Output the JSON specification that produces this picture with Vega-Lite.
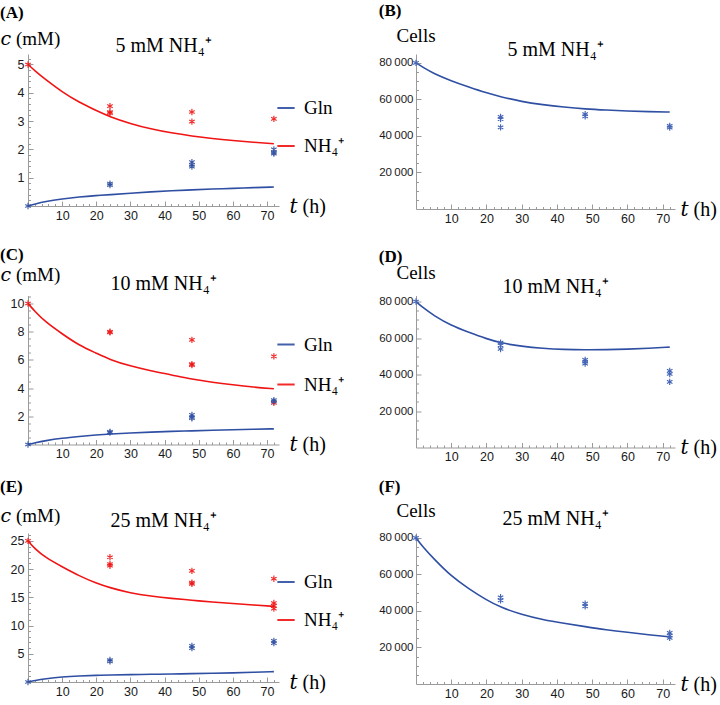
{
  "$schema": "https://vega.github.io/schema/vega-lite/v6.json",
  "padding": {"left": 0, "top": 2, "right": 0, "bottom": 0},
  "background": "white",
  "config": {
    "view": {"stroke": null},
    "axis": {"domainColor": "#9a9a9a", "tickColor": "#9a9a9a", "labelFont": "Liberation Sans", "labelFontSize": 12.5, "labelColor": "#1a1a1a", "grid": false, "titleFont": "Liberation Serif, DejaVu Serif", "titleFontWeight": "normal", "titleColor": "black", "labelFlush": false, "labelOverlap": false, "tickSize": -5, "domainWidth": 1, "tickCount": 100},
    "title": {"font": "Liberation Serif", "fontWeight": "normal", "color": "black"}
  },
  "datasets": {
    "curves": [
      {"p":"A","s":"NH₄⁺","t":0,"v":5.0},{"p":"A","s":"NH₄⁺","t":2,"v":4.78},{"p":"A","s":"NH₄⁺","t":5,"v":4.48},{"p":"A","s":"NH₄⁺","t":10,"v":4.03},{"p":"A","s":"NH₄⁺","t":15,"v":3.66},{"p":"A","s":"NH₄⁺","t":20,"v":3.37},{"p":"A","s":"NH₄⁺","t":24,"v":3.15},{"p":"A","s":"NH₄⁺","t":30,"v":2.91},{"p":"A","s":"NH₄⁺","t":36,"v":2.72},{"p":"A","s":"NH₄⁺","t":42,"v":2.58},{"p":"A","s":"NH₄⁺","t":48,"v":2.47},{"p":"A","s":"NH₄⁺","t":54,"v":2.38},{"p":"A","s":"NH₄⁺","t":60,"v":2.31},{"p":"A","s":"NH₄⁺","t":66,"v":2.25},{"p":"A","s":"NH₄⁺","t":72,"v":2.2},
      {"p":"A","s":"Gln","t":0,"v":0},{"p":"A","s":"Gln","t":2,"v":0.07},{"p":"A","s":"Gln","t":5,"v":0.16},{"p":"A","s":"Gln","t":10,"v":0.25},{"p":"A","s":"Gln","t":15,"v":0.32},{"p":"A","s":"Gln","t":20,"v":0.37},{"p":"A","s":"Gln","t":24,"v":0.4},{"p":"A","s":"Gln","t":30,"v":0.45},{"p":"A","s":"Gln","t":36,"v":0.5},{"p":"A","s":"Gln","t":42,"v":0.54},{"p":"A","s":"Gln","t":48,"v":0.57},{"p":"A","s":"Gln","t":54,"v":0.6},{"p":"A","s":"Gln","t":60,"v":0.62},{"p":"A","s":"Gln","t":66,"v":0.65},{"p":"A","s":"Gln","t":72,"v":0.67},
      {"p":"C","s":"NH₄⁺","t":0,"v":10},{"p":"C","s":"NH₄⁺","t":2,"v":9.45},{"p":"C","s":"NH₄⁺","t":5,"v":8.72},{"p":"C","s":"NH₄⁺","t":10,"v":7.85},{"p":"C","s":"NH₄⁺","t":15,"v":7.03},{"p":"C","s":"NH₄⁺","t":20,"v":6.48},{"p":"C","s":"NH₄⁺","t":24,"v":6.02},{"p":"C","s":"NH₄⁺","t":30,"v":5.56},{"p":"C","s":"NH₄⁺","t":36,"v":5.22},{"p":"C","s":"NH₄⁺","t":42,"v":4.94},{"p":"C","s":"NH₄⁺","t":48,"v":4.63},{"p":"C","s":"NH₄⁺","t":54,"v":4.41},{"p":"C","s":"NH₄⁺","t":60,"v":4.23},{"p":"C","s":"NH₄⁺","t":66,"v":4.07},{"p":"C","s":"NH₄⁺","t":72,"v":3.95},
      {"p":"C","s":"Gln","t":0,"v":0},{"p":"C","s":"Gln","t":2,"v":0.12},{"p":"C","s":"Gln","t":5,"v":0.27},{"p":"C","s":"Gln","t":10,"v":0.45},{"p":"C","s":"Gln","t":15,"v":0.57},{"p":"C","s":"Gln","t":20,"v":0.68},{"p":"C","s":"Gln","t":24,"v":0.75},{"p":"C","s":"Gln","t":30,"v":0.82},{"p":"C","s":"Gln","t":36,"v":0.88},{"p":"C","s":"Gln","t":42,"v":0.93},{"p":"C","s":"Gln","t":48,"v":0.97},{"p":"C","s":"Gln","t":54,"v":1.01},{"p":"C","s":"Gln","t":60,"v":1.05},{"p":"C","s":"Gln","t":66,"v":1.08},{"p":"C","s":"Gln","t":72,"v":1.11},
      {"p":"E","s":"NH₄⁺","t":0,"v":25},{"p":"E","s":"NH₄⁺","t":2,"v":23.6},{"p":"E","s":"NH₄⁺","t":5,"v":22.1},{"p":"E","s":"NH₄⁺","t":10,"v":20.4},{"p":"E","s":"NH₄⁺","t":15,"v":18.8},{"p":"E","s":"NH₄⁺","t":20,"v":17.5},{"p":"E","s":"NH₄⁺","t":24,"v":16.7},{"p":"E","s":"NH₄⁺","t":30,"v":15.75},{"p":"E","s":"NH₄⁺","t":36,"v":15.2},{"p":"E","s":"NH₄⁺","t":42,"v":14.8},{"p":"E","s":"NH₄⁺","t":48,"v":14.5},{"p":"E","s":"NH₄⁺","t":54,"v":14.15},{"p":"E","s":"NH₄⁺","t":60,"v":13.9},{"p":"E","s":"NH₄⁺","t":66,"v":13.65},{"p":"E","s":"NH₄⁺","t":72,"v":13.4},
      {"p":"E","s":"Gln","t":0,"v":0},{"p":"E","s":"Gln","t":2,"v":0.25},{"p":"E","s":"Gln","t":5,"v":0.55},{"p":"E","s":"Gln","t":10,"v":0.92},{"p":"E","s":"Gln","t":15,"v":1.08},{"p":"E","s":"Gln","t":20,"v":1.18},{"p":"E","s":"Gln","t":24,"v":1.24},{"p":"E","s":"Gln","t":30,"v":1.3},{"p":"E","s":"Gln","t":36,"v":1.36},{"p":"E","s":"Gln","t":42,"v":1.42},{"p":"E","s":"Gln","t":48,"v":1.48},{"p":"E","s":"Gln","t":54,"v":1.55},{"p":"E","s":"Gln","t":60,"v":1.62},{"p":"E","s":"Gln","t":66,"v":1.72},{"p":"E","s":"Gln","t":72,"v":1.83},
      {"p":"B","s":"Cells","t":0,"v":80000},{"p":"B","s":"Cells","t":2,"v":77600},{"p":"B","s":"Cells","t":5,"v":74200},{"p":"B","s":"Cells","t":10,"v":70200},{"p":"B","s":"Cells","t":15,"v":66800},{"p":"B","s":"Cells","t":20,"v":63600},{"p":"B","s":"Cells","t":24,"v":61500},{"p":"B","s":"Cells","t":30,"v":58800},{"p":"B","s":"Cells","t":36,"v":57100},{"p":"B","s":"Cells","t":42,"v":55800},{"p":"B","s":"Cells","t":48,"v":54800},{"p":"B","s":"Cells","t":54,"v":54200},{"p":"B","s":"Cells","t":60,"v":53700},{"p":"B","s":"Cells","t":66,"v":53300},{"p":"B","s":"Cells","t":72,"v":53100},
      {"p":"D","s":"Cells","t":0,"v":80000},{"p":"D","s":"Cells","t":2,"v":76600},{"p":"D","s":"Cells","t":5,"v":72400},{"p":"D","s":"Cells","t":10,"v":66800},{"p":"D","s":"Cells","t":15,"v":63100},{"p":"D","s":"Cells","t":20,"v":59600},{"p":"D","s":"Cells","t":24,"v":57300},{"p":"D","s":"Cells","t":30,"v":55400},{"p":"D","s":"Cells","t":36,"v":54300},{"p":"D","s":"Cells","t":42,"v":53700},{"p":"D","s":"Cells","t":48,"v":53500},{"p":"D","s":"Cells","t":54,"v":53600},{"p":"D","s":"Cells","t":60,"v":53900},{"p":"D","s":"Cells","t":66,"v":54400},{"p":"D","s":"Cells","t":72,"v":55000},
      {"p":"F","s":"Cells","t":0,"v":80000},{"p":"F","s":"Cells","t":2,"v":75000},{"p":"F","s":"Cells","t":5,"v":68700},{"p":"F","s":"Cells","t":10,"v":59000},{"p":"F","s":"Cells","t":15,"v":52100},{"p":"F","s":"Cells","t":20,"v":46000},{"p":"F","s":"Cells","t":24,"v":42000},{"p":"F","s":"Cells","t":30,"v":38000},{"p":"F","s":"Cells","t":36,"v":35200},{"p":"F","s":"Cells","t":42,"v":33200},{"p":"F","s":"Cells","t":48,"v":31400},{"p":"F","s":"Cells","t":54,"v":29700},{"p":"F","s":"Cells","t":60,"v":28300},{"p":"F","s":"Cells","t":66,"v":27000},{"p":"F","s":"Cells","t":72,"v":25800}
    ],
    "points": [
      {"p":"A","s":"NH₄⁺","t":0,"v":5},{"p":"A","s":"NH₄⁺","t":24,"v":3.53},{"p":"A","s":"NH₄⁺","t":24,"v":3.32},{"p":"A","s":"NH₄⁺","t":24,"v":3.28},{"p":"A","s":"NH₄⁺","t":48,"v":3.32},{"p":"A","s":"NH₄⁺","t":48,"v":2.98},{"p":"A","s":"NH₄⁺","t":72,"v":3.08},
      {"p":"A","s":"Gln","t":0,"v":0},{"p":"A","s":"Gln","t":24,"v":0.79},{"p":"A","s":"Gln","t":24,"v":0.74},{"p":"A","s":"Gln","t":48,"v":1.55},{"p":"A","s":"Gln","t":48,"v":1.45},{"p":"A","s":"Gln","t":48,"v":1.39},{"p":"A","s":"Gln","t":72,"v":2.0},{"p":"A","s":"Gln","t":72,"v":1.89},{"p":"A","s":"Gln","t":72,"v":1.85},
      {"p":"C","s":"NH₄⁺","t":0,"v":10},{"p":"C","s":"NH₄⁺","t":24,"v":8.0},{"p":"C","s":"NH₄⁺","t":24,"v":7.95},{"p":"C","s":"NH₄⁺","t":48,"v":7.42},{"p":"C","s":"NH₄⁺","t":48,"v":5.7},{"p":"C","s":"NH₄⁺","t":48,"v":5.63},{"p":"C","s":"NH₄⁺","t":72,"v":6.25},{"p":"C","s":"NH₄⁺","t":72,"v":2.95},
      {"p":"C","s":"Gln","t":0,"v":0},{"p":"C","s":"Gln","t":24,"v":0.9},{"p":"C","s":"Gln","t":24,"v":0.85},{"p":"C","s":"Gln","t":48,"v":2.1},{"p":"C","s":"Gln","t":48,"v":1.93},{"p":"C","s":"Gln","t":48,"v":1.86},{"p":"C","s":"Gln","t":72,"v":3.15},{"p":"C","s":"Gln","t":72,"v":3.05},
      {"p":"E","s":"NH₄⁺","t":0,"v":25},{"p":"E","s":"NH₄⁺","t":24,"v":22.1},{"p":"E","s":"NH₄⁺","t":24,"v":20.9},{"p":"E","s":"NH₄⁺","t":24,"v":20.6},{"p":"E","s":"NH₄⁺","t":48,"v":19.7},{"p":"E","s":"NH₄⁺","t":48,"v":17.6},{"p":"E","s":"NH₄⁺","t":48,"v":17.4},{"p":"E","s":"NH₄⁺","t":72,"v":18.3},{"p":"E","s":"NH₄⁺","t":72,"v":14.0},{"p":"E","s":"NH₄⁺","t":72,"v":13.5},{"p":"E","s":"NH₄⁺","t":72,"v":13.0},
      {"p":"E","s":"Gln","t":0,"v":0},{"p":"E","s":"Gln","t":24,"v":3.9},{"p":"E","s":"Gln","t":24,"v":3.65},{"p":"E","s":"Gln","t":48,"v":6.4},{"p":"E","s":"Gln","t":48,"v":6.0},{"p":"E","s":"Gln","t":72,"v":7.3},{"p":"E","s":"Gln","t":72,"v":6.9},
      {"p":"B","s":"Cells","t":0,"v":80000},{"p":"B","s":"Cells","t":24,"v":50500},{"p":"B","s":"Cells","t":24,"v":49200},{"p":"B","s":"Cells","t":24,"v":44700},{"p":"B","s":"Cells","t":48,"v":52000},{"p":"B","s":"Cells","t":48,"v":50700},{"p":"B","s":"Cells","t":72,"v":45500},{"p":"B","s":"Cells","t":72,"v":44600},
      {"p":"D","s":"Cells","t":0,"v":80000},{"p":"D","s":"Cells","t":24,"v":57500},{"p":"D","s":"Cells","t":24,"v":56000},{"p":"D","s":"Cells","t":24,"v":54000},{"p":"D","s":"Cells","t":48,"v":48000},{"p":"D","s":"Cells","t":48,"v":47000},{"p":"D","s":"Cells","t":48,"v":46000},{"p":"D","s":"Cells","t":72,"v":42000},{"p":"D","s":"Cells","t":72,"v":40300},{"p":"D","s":"Cells","t":72,"v":36000},
      {"p":"F","s":"Cells","t":0,"v":80000},{"p":"F","s":"Cells","t":24,"v":47500},{"p":"F","s":"Cells","t":24,"v":45800},{"p":"F","s":"Cells","t":48,"v":44000},{"p":"F","s":"Cells","t":48,"v":42500},{"p":"F","s":"Cells","t":72,"v":28000},{"p":"F","s":"Cells","t":72,"v":26500},{"p":"F","s":"Cells","t":72,"v":25300}
    ]
  },
  "resolve": {"scale": {"color": "independent"}, "legend": {"color": "independent"}},
  "spacing": 20.5,
  "vconcat": [
    {"resolve": {"scale": {"color": "independent"}, "legend": {"color": "independent"}}, "spacing": 33,
     "hconcat": [
      {"title": {"text": "(A)", "anchor": "start", "fontWeight": "bold", "fontSize": 17, "offset": 7},
       "resolve": {"scale": {"color": "independent"}, "legend": {"color": "independent"}},
       "hconcat": [{
        "width": 251, "height": 152,
        "title": {"text": "5 mM NH₄⁺", "fontSize": 20, "anchor": "middle", "dx": 10, "offset": -27},
        "resolve": {"axis": {"x": "independent", "y": "independent"}},
        "layer": [
          {"data": {"name": "curves"}, "transform": [{"filter": "datum.p == 'A'"}],
           "mark": {"type": "line", "strokeWidth": 1.6, "interpolate": "basis"},
           "encoding": {
             "x": {"field": "t", "type": "quantitative", "scale": {"domain": [0, 73.5], "nice": false, "zero": false}, "axis": {"orient": "bottom", "values": [10,20,30,40,50,60,70], "format": "d", "labelPadding": 8, "title": "𝑡 (h)", "titleFontSize": 20, "titleAngle": 0, "titleAlign": "left", "titleBaseline": "middle", "titleX": 261, "titleY": 0}},
             "y": {"field": "v", "type": "quantitative", "scale": {"domain": [0, 5.37], "nice": false}, "axis": {"orient": "left", "values": [1,2,3,4,5], "format": "d", "labelPadding": 9, "title": "𝑐 (mM)", "titleFontSize": 19, "titleAngle": 0, "titleAlign": "left", "titleBaseline": "alphabetic", "titleX": -28, "titleY": -10}},
             "color": {"field": "s", "type": "nominal", "scale": {"domain": ["Gln", "NH₄⁺"], "range": ["#2f4fa3", "#f01414"]}, "legend": {"orient": "none", "legendX": 248, "legendY": 44, "title": null, "symbolType": "stroke", "symbolStrokeWidth": 2, "symbolSize": 300, "labelFont": "Liberation Serif", "labelFontSize": 19, "labelColor": "black", "labelOffset": 8, "rowPadding": 18}}
           }},
          {"data": {"name": "points"}, "transform": [{"filter": "datum.p == 'A'"}],
           "mark": {"type": "point", "opacity": 0},
           "encoding": {
             "x": {"field": "t", "type": "quantitative", "axis": {"orient": "bottom", "values": [2,4,6,8,12,14,16,18,22,24,26,28,32,34,36,38,42,44,46,48,52,54,56,58,62,64,66,68,72], "labels": false, "domain": false, "tickSize": -2.5, "title": null}},
             "y": {"field": "v", "type": "quantitative", "axis": {"orient": "left", "values": [0.2,0.4,0.6,0.8,1.2,1.4,1.6,1.8,2.2,2.4,2.6,2.8,3.2,3.4,3.6,3.8,4.2,4.4,4.6,4.8,5.2], "labels": false, "domain": false, "tickSize": -2.5, "title": null}}
           }},
          {"data": {"name": "points"}, "transform": [{"filter": "datum.p == 'A'"}],
           "mark": {"type": "point", "shape": "M0,-1L0,1M-0.87,-0.5L0.87,0.5M-0.87,0.5L0.87,-0.5", "filled": false, "size": 40, "strokeWidth": 1.15, "opacity": 0.9},
           "encoding": {"x": {"field": "t", "type": "quantitative", "axis": null}, "y": {"field": "v", "type": "quantitative", "axis": null}, "color": {"field": "s", "type": "nominal"}}}
        ]
      }]},
      {"title": {"text": "(B)", "anchor": "start", "fontWeight": "bold", "fontSize": 17, "offset": 6},
       "hconcat": [{
        "width": 259, "height": 155,
        "title": {"text": "5 mM NH₄⁺", "fontSize": 20, "anchor": "middle", "dx": 10, "offset": -34},
        "resolve": {"axis": {"x": "independent", "y": "independent"}},
        "layer": [
          {"data": {"name": "curves"}, "transform": [{"filter": "datum.p == 'B'"}],
           "mark": {"type": "line", "strokeWidth": 1.6, "interpolate": "basis", "color": "#2f4fa3"},
           "encoding": {
             "x": {"field": "t", "type": "quantitative", "scale": {"domain": [0, 73.5], "nice": false, "zero": false}, "axis": {"orient": "bottom", "values": [10,20,30,40,50,60,70], "format": "d", "labelPadding": 8, "title": "𝑡 (h)", "titleFontSize": 20, "titleAngle": 0, "titleAlign": "left", "titleBaseline": "middle", "titleX": 264, "titleY": 0}},
             "y": {"field": "v", "type": "quantitative", "scale": {"domain": [0, 84900], "nice": false}, "axis": {"orient": "left", "values": [20000,40000,60000,80000], "labelFontSize": 11.5, "labelExpr": "replace(format(datum.value, ','), ',', '\u2009')", "labelPadding": 8, "title": "Cells", "titleFontSize": 19, "titleAngle": 0, "titleAlign": "left", "titleBaseline": "alphabetic", "titleX": -20, "titleY": -13}}
           }},
          {"data": {"name": "points"}, "transform": [{"filter": "datum.p == 'B'"}],
           "mark": {"type": "point", "opacity": 0},
           "encoding": {
             "x": {"field": "t", "type": "quantitative", "axis": {"orient": "bottom", "values": [2,4,6,8,12,14,16,18,22,24,26,28,32,34,36,38,42,44,46,48,52,54,56,58,62,64,66,68,72], "labels": false, "domain": false, "tickSize": -2.5, "title": null}},
             "y": {"field": "v", "type": "quantitative", "axis": {"orient": "left", "values": [5000,10000,15000,25000,30000,35000,45000,50000,55000,65000,70000,75000], "labels": false, "domain": false, "tickSize": -2.5, "title": null}}
           }},
          {"data": {"name": "points"}, "transform": [{"filter": "datum.p == 'B'"}],
           "mark": {"type": "point", "shape": "M0,-1L0,1M-0.87,-0.5L0.87,0.5M-0.87,0.5L0.87,-0.5", "filled": false, "size": 40, "strokeWidth": 1.15, "opacity": 1, "color": "#4565b5"},
           "encoding": {"x": {"field": "t", "type": "quantitative", "axis": null}, "y": {"field": "v", "type": "quantitative", "axis": null}}}
        ]
      }]}
    ]},
    {"resolve": {"scale": {"color": "independent"}, "legend": {"color": "independent"}}, "spacing": 14.5,
     "vconcat": [
      {"resolve": {"scale": {"color": "independent"}, "legend": {"color": "independent"}}, "spacing": 33,
       "hconcat": [
        {"title": {"text": "(C)", "anchor": "start", "fontWeight": "bold", "fontSize": 17, "offset": 2},
         "resolve": {"scale": {"color": "independent"}, "legend": {"color": "independent"}},
         "hconcat": [{
          "width": 251, "height": 149,
          "title": {"text": "10 mM NH₄⁺", "fontSize": 20, "anchor": "middle", "dx": 10, "offset": -28},
          "resolve": {"axis": {"x": "independent", "y": "independent"}},
          "layer": [
            {"data": {"name": "curves"}, "transform": [{"filter": "datum.p == 'C'"}],
             "mark": {"type": "line", "strokeWidth": 1.6, "interpolate": "basis"},
             "encoding": {
               "x": {"field": "t", "type": "quantitative", "scale": {"domain": [0, 73.5], "nice": false, "zero": false}, "axis": {"orient": "bottom", "values": [10,20,30,40,50,60,70], "format": "d", "labelPadding": 8, "title": "𝑡 (h)", "titleFontSize": 20, "titleAngle": 0, "titleAlign": "left", "titleBaseline": "middle", "titleX": 261, "titleY": 0}},
               "y": {"field": "v", "type": "quantitative", "scale": {"domain": [0, 10.57], "nice": false}, "axis": {"orient": "left", "values": [2,4,6,8,10], "format": "d", "labelPadding": 9, "title": "𝑐 (mM)", "titleFontSize": 19, "titleAngle": 0, "titleAlign": "left", "titleBaseline": "alphabetic", "titleX": -28, "titleY": -15}},
               "color": {"field": "s", "type": "nominal", "scale": {"domain": ["Gln", "NH₄⁺"], "range": ["#2f4fa3", "#f01414"]}, "legend": {"orient": "none", "legendX": 248, "legendY": 39, "title": null, "symbolType": "stroke", "symbolStrokeWidth": 2, "symbolSize": 300, "labelFont": "Liberation Serif", "labelFontSize": 19, "labelColor": "black", "labelOffset": 8, "rowPadding": 20}}
             }},
            {"data": {"name": "points"}, "transform": [{"filter": "datum.p == 'C'"}],
             "mark": {"type": "point", "opacity": 0},
             "encoding": {
               "x": {"field": "t", "type": "quantitative", "axis": {"orient": "bottom", "values": [2,4,6,8,12,14,16,18,22,24,26,28,32,34,36,38,42,44,46,48,52,54,56,58,62,64,66,68,72], "labels": false, "domain": false, "tickSize": -2.5, "title": null}},
               "y": {"field": "v", "type": "quantitative", "axis": {"orient": "left", "values": [0.5,1,1.5,2.5,3,3.5,4.5,5,5.5,6.5,7,7.5,8.5,9,9.5,10.5], "labels": false, "domain": false, "tickSize": -2.5, "title": null}}
             }},
            {"data": {"name": "points"}, "transform": [{"filter": "datum.p == 'C'"}],
             "mark": {"type": "point", "shape": "M0,-1L0,1M-0.87,-0.5L0.87,0.5M-0.87,0.5L0.87,-0.5", "filled": false, "size": 40, "strokeWidth": 1.15, "opacity": 0.9},
             "encoding": {"x": {"field": "t", "type": "quantitative", "axis": null}, "y": {"field": "v", "type": "quantitative", "axis": null}, "color": {"field": "s", "type": "nominal"}}}
          ]
        }]},
        {"title": {"text": "(D)", "anchor": "start", "fontWeight": "bold", "fontSize": 17, "offset": -2},
         "hconcat": [{
          "width": 259, "height": 152,
          "title": {"text": "10 mM NH₄⁺", "fontSize": 20, "anchor": "middle", "dx": 10, "offset": -33},
          "resolve": {"axis": {"x": "independent", "y": "independent"}},
          "layer": [
            {"data": {"name": "curves"}, "transform": [{"filter": "datum.p == 'D'"}],
             "mark": {"type": "line", "strokeWidth": 1.6, "interpolate": "basis", "color": "#2f4fa3"},
             "encoding": {
               "x": {"field": "t", "type": "quantitative", "scale": {"domain": [0, 73.5], "nice": false, "zero": false}, "axis": {"orient": "bottom", "values": [10,20,30,40,50,60,70], "format": "d", "labelPadding": 8, "title": "𝑡 (h)", "titleFontSize": 20, "titleAngle": 0, "titleAlign": "left", "titleBaseline": "middle", "titleX": 264, "titleY": 0}},
               "y": {"field": "v", "type": "quantitative", "scale": {"domain": [0, 83300], "nice": false}, "axis": {"orient": "left", "values": [20000,40000,60000,80000], "labelFontSize": 11.5, "labelExpr": "replace(format(datum.value, ','), ',', '\u2009')", "labelPadding": 8, "title": "Cells", "titleFontSize": 19, "titleAngle": 0, "titleAlign": "left", "titleBaseline": "alphabetic", "titleX": -20, "titleY": -17}}
             }},
            {"data": {"name": "points"}, "transform": [{"filter": "datum.p == 'D'"}],
             "mark": {"type": "point", "opacity": 0},
             "encoding": {
               "x": {"field": "t", "type": "quantitative", "axis": {"orient": "bottom", "values": [2,4,6,8,12,14,16,18,22,24,26,28,32,34,36,38,42,44,46,48,52,54,56,58,62,64,66,68,72], "labels": false, "domain": false, "tickSize": -2.5, "title": null}},
               "y": {"field": "v", "type": "quantitative", "axis": {"orient": "left", "values": [5000,10000,15000,25000,30000,35000,45000,50000,55000,65000,70000,75000], "labels": false, "domain": false, "tickSize": -2.5, "title": null}}
             }},
            {"data": {"name": "points"}, "transform": [{"filter": "datum.p == 'D'"}],
             "mark": {"type": "point", "shape": "M0,-1L0,1M-0.87,-0.5L0.87,0.5M-0.87,0.5L0.87,-0.5", "filled": false, "size": 40, "strokeWidth": 1.15, "opacity": 1, "color": "#4565b5"},
             "encoding": {"x": {"field": "t", "type": "quantitative", "axis": null}, "y": {"field": "v", "type": "quantitative", "axis": null}}}
          ]
        }]}
      ]},
      {"resolve": {"scale": {"color": "independent"}, "legend": {"color": "independent"}}, "spacing": 33,
       "hconcat": [
        {"title": {"text": "(E)", "anchor": "start", "fontWeight": "bold", "fontSize": 17, "offset": 10},
         "resolve": {"scale": {"color": "independent"}, "legend": {"color": "independent"}},
         "hconcat": [{
          "width": 251, "height": 149,
          "title": {"text": "25 mM NH₄⁺", "fontSize": 20, "anchor": "middle", "dx": 10, "offset": -25},
          "resolve": {"axis": {"x": "independent", "y": "independent"}},
          "layer": [
            {"data": {"name": "curves"}, "transform": [{"filter": "datum.p == 'E'"}],
             "mark": {"type": "line", "strokeWidth": 1.6, "interpolate": "basis"},
             "encoding": {
               "x": {"field": "t", "type": "quantitative", "scale": {"domain": [0, 73.5], "nice": false, "zero": false}, "axis": {"orient": "bottom", "values": [10,20,30,40,50,60,70], "format": "d", "labelPadding": 8, "title": "𝑡 (h)", "titleFontSize": 20, "titleAngle": 0, "titleAlign": "left", "titleBaseline": "middle", "titleX": 261, "titleY": 0}},
               "y": {"field": "v", "type": "quantitative", "scale": {"domain": [0, 26.4], "nice": false}, "axis": {"orient": "left", "values": [5,10,15,20,25], "format": "d", "labelPadding": 9, "title": "𝑐 (mM)", "titleFontSize": 19, "titleAngle": 0, "titleAlign": "left", "titleBaseline": "alphabetic", "titleX": -28, "titleY": -12}},
               "color": {"field": "s", "type": "nominal", "scale": {"domain": ["Gln", "NH₄⁺"], "range": ["#2f4fa3", "#f01414"]}, "legend": {"orient": "none", "legendX": 248, "legendY": 39, "title": null, "symbolType": "stroke", "symbolStrokeWidth": 2, "symbolSize": 300, "labelFont": "Liberation Serif", "labelFontSize": 19, "labelColor": "black", "labelOffset": 8, "rowPadding": 18}}
             }},
            {"data": {"name": "points"}, "transform": [{"filter": "datum.p == 'E'"}],
             "mark": {"type": "point", "opacity": 0},
             "encoding": {
               "x": {"field": "t", "type": "quantitative", "axis": {"orient": "bottom", "values": [2,4,6,8,12,14,16,18,22,24,26,28,32,34,36,38,42,44,46,48,52,54,56,58,62,64,66,68,72], "labels": false, "domain": false, "tickSize": -2.5, "title": null}},
               "y": {"field": "v", "type": "quantitative", "axis": {"orient": "left", "values": [1,2,3,4,6,7,8,9,11,12,13,14,16,17,18,19,21,22,23,24,26], "labels": false, "domain": false, "tickSize": -2.5, "title": null}}
             }},
            {"data": {"name": "points"}, "transform": [{"filter": "datum.p == 'E'"}],
             "mark": {"type": "point", "shape": "M0,-1L0,1M-0.87,-0.5L0.87,0.5M-0.87,0.5L0.87,-0.5", "filled": false, "size": 40, "strokeWidth": 1.15, "opacity": 0.9},
             "encoding": {"x": {"field": "t", "type": "quantitative", "axis": null}, "y": {"field": "v", "type": "quantitative", "axis": null}, "color": {"field": "s", "type": "nominal"}}}
          ]
        }]},
        {"title": {"text": "(F)", "anchor": "start", "fontWeight": "bold", "fontSize": 17, "offset": 5},
         "hconcat": [{
          "width": 259, "height": 151,
          "title": {"text": "25 mM NH₄⁺", "fontSize": 20, "anchor": "middle", "dx": 10, "offset": -28},
          "resolve": {"axis": {"x": "independent", "y": "independent"}},
          "layer": [
            {"data": {"name": "curves"}, "transform": [{"filter": "datum.p == 'F'"}],
             "mark": {"type": "line", "strokeWidth": 1.6, "interpolate": "basis", "color": "#2f4fa3"},
             "encoding": {
               "x": {"field": "t", "type": "quantitative", "scale": {"domain": [0, 73.5], "nice": false, "zero": false}, "axis": {"orient": "bottom", "values": [10,20,30,40,50,60,70], "format": "d", "labelPadding": 8, "title": "𝑡 (h)", "titleFontSize": 20, "titleAngle": 0, "titleAlign": "left", "titleBaseline": "middle", "titleX": 264, "titleY": 0}},
               "y": {"field": "v", "type": "quantitative", "scale": {"domain": [0, 82700], "nice": false}, "axis": {"orient": "left", "values": [20000,40000,60000,80000], "labelFontSize": 11.5, "labelExpr": "replace(format(datum.value, ','), ',', '\u2009')", "labelPadding": 8, "title": "Cells", "titleFontSize": 19, "titleAngle": 0, "titleAlign": "left", "titleBaseline": "alphabetic", "titleX": -20, "titleY": -17}}
             }},
            {"data": {"name": "points"}, "transform": [{"filter": "datum.p == 'F'"}],
             "mark": {"type": "point", "opacity": 0},
             "encoding": {
               "x": {"field": "t", "type": "quantitative", "axis": {"orient": "bottom", "values": [2,4,6,8,12,14,16,18,22,24,26,28,32,34,36,38,42,44,46,48,52,54,56,58,62,64,66,68,72], "labels": false, "domain": false, "tickSize": -2.5, "title": null}},
               "y": {"field": "v", "type": "quantitative", "axis": {"orient": "left", "values": [5000,10000,15000,25000,30000,35000,45000,50000,55000,65000,70000,75000], "labels": false, "domain": false, "tickSize": -2.5, "title": null}}
             }},
            {"data": {"name": "points"}, "transform": [{"filter": "datum.p == 'F'"}],
             "mark": {"type": "point", "shape": "M0,-1L0,1M-0.87,-0.5L0.87,0.5M-0.87,0.5L0.87,-0.5", "filled": false, "size": 40, "strokeWidth": 1.15, "opacity": 1, "color": "#4565b5"},
             "encoding": {"x": {"field": "t", "type": "quantitative", "axis": null}, "y": {"field": "v", "type": "quantitative", "axis": null}}}
          ]
        }]}
      ]}
    ]}
  ]
}
